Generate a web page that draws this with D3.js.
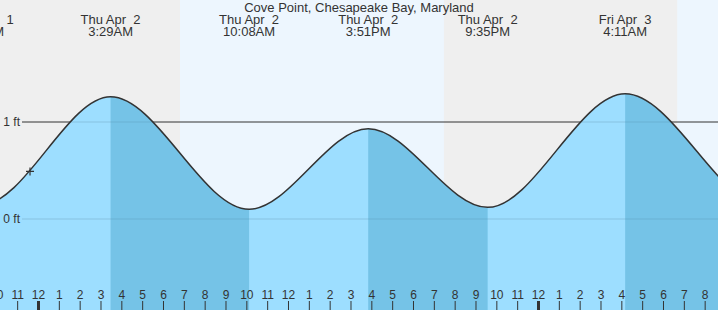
<!DOCTYPE html>
<html>
<head>
<meta charset="utf-8">
<script src="https://cdn.jsdelivr.net/npm/d3@7"></script>
<style>
  body { margin: 0; background: #fff; }
  svg { display: block; font-family: "Liberation Sans", Arial, sans-serif; }
  text { white-space: pre; fill: #333; }
</style>
</head>
<body>
<div id="chart"></div>
<script>
// tide extremes (high / low)
const extremeTimes = ['2026-04-01T15:05', '2026-04-01T21:18', '2026-04-02T03:29', '2026-04-02T10:08',
    '2026-04-02T15:51', '2026-04-02T21:35', '2026-04-03T04:11', '2026-04-03T11:05', '2026-04-03T16:45']
const extremeFeet = [0.95, 0.15, 1.26, 0.10, 0.93, 0.12, 1.29, 0.10, 0.90]
const extremeType = ['H', 'L', 'H', 'L', 'H', 'L', 'H', 'L', 'H']

// daylight
const sunrise = ['2026-04-02T06:49', '2026-04-03T06:41']
const sunset = ['2026-04-02T19:29', '2026-04-03T19:30']

const viewStart = '2026-04-01T22:10:34'
const viewEnd = '2026-04-03T08:38:24'
const gridFeet = [0, 1]
const gridLabels = ['0 ft', '1 ft']
const nowTime = '2026-04-01T23:37'
const nowFeet = 0.49
const title = 'Cove Point, Chesapeake Bay, Maryland'

const createChart = () => {
//variables
    const width = 718
    const height = 310
    const parse = d3.timeParse('%Y-%m-%dT%H:%M')
    const parseS = d3.timeParse('%Y-%m-%dT%H:%M:%S')
    const fmtDay = d3.timeFormat('%a %b %e')
    const fmtTime = d3.timeFormat('%-I:%M%p')

    const x = d3.scaleTime()
        .domain([parseS(viewStart), parseS(viewEnd)])
        .range([0, width])
    const y = d3.scaleLinear()
        .domain([0, 1])
        .range([219, 122])

    const tide = extremeTimes.map((t, i) => ({ t: parse(t), v: extremeFeet[i], type: extremeType[i] }))

    const svg = d3.select('#chart')
        .append('svg')
        .attr('width', width)
        .attr('height', height)

//night / day background
    svg.append('rect')
        .attr('width', width)
        .attr('height', height)
        .attr('fill', '#efefef')
    svg.selectAll('.day')
        .data(sunrise.map((s, i) => [parse(s), parse(sunset[i])]))
        .enter()
        .append('rect')
        .attr('class', 'day')
        .attr('x', (d) => x(d[0]))
        .attr('width', (d) => x(d[1]) - x(d[0]))
        .attr('height', height)
        .attr('fill', '#edf6fe')

//grid lines under water
    svg.append('g')
        .selectAll('line')
        .data(gridFeet)
        .enter()
        .append('line')
        .attr('x1', 22)
        .attr('x2', width)
        .attr('y1', (d) => y(d))
        .attr('y2', (d) => y(d))
        .attr('stroke', '#333')

//water
    const area = d3.area()
        .x((d) => x(d.t))
        .y0(height)
        .y1((d) => y(d.v))
        .curve(d3.curveMonotoneX)
    svg.append('clipPath')
        .attr('id', 'water')
        .append('path')
        .attr('d', area(tide))
    svg.append('path')
        .attr('d', area(tide))
        .attr('fill', '#99ddff')
        .attr('fill-opacity', 0.96)

    // falling tide bands (high to next low)
    const bands = []
    tide.forEach((d, i) => {
        if (d.type === 'H') {
            const next = tide[i + 1] ? tide[i + 1].t : x.domain()[1]
            bands.push([d.t, next])
        }
    })
    svg.append('g')
        .attr('clip-path', 'url(#water)')
        .selectAll('rect')
        .data(bands)
        .enter()
        .append('rect')
        .attr('x', (d) => x(d[0]))
        .attr('width', (d) => x(d[1]) - x(d[0]))
        .attr('height', height)
        .attr('fill', '#74c2e6')
        .attr('fill-opacity', 0.96)

    // faint grid over water
    svg.append('g')
        .attr('clip-path', 'url(#water)')
        .selectAll('line')
        .data(gridFeet)
        .enter()
        .append('line')
        .attr('x1', 22)
        .attr('x2', width)
        .attr('y1', (d) => y(d))
        .attr('y2', (d) => y(d))
        .attr('stroke', '#000')
        .attr('stroke-opacity', 0.09)

    svg.append('g')
        .selectAll('text')
        .data(gridFeet)
        .enter()
        .append('text')
        .attr('x', 20)
        .attr('y', (d) => y(d))
        .attr('dy', '0.35em')
        .attr('text-anchor', 'end')
        .attr('font-size', 12)
        .text((d, i) => gridLabels[i])

//tide line
    const line = d3.line()
        .x((d) => x(d.t))
        .y((d) => y(d.v))
        .curve(d3.curveMonotoneX)
    svg.append('path')
        .attr('d', line(tide))
        .attr('fill', 'none')
        .attr('stroke', '#333')
        .attr('stroke-width', 1.5)

//current time marker
    svg.append('path')
        .attr('transform', `translate(${x(parse(nowTime))},${y(nowFeet)})`)
        .attr('d', 'M-4,0H4M0,-4V4')
        .attr('stroke', '#333')
        .attr('stroke-width', 1.2)

//title and extreme labels
    svg.append('text')
        .attr('x', width / 2)
        .attr('y', 12)
        .attr('text-anchor', 'middle')
        .attr('font-size', 13)
        .text(title)
    const labels = svg.append('g')
        .selectAll('text')
        .data(tide.filter((d) => x(d.t) > -60 && x(d.t) < width + 60))
        .enter()
        .append('text')
        .attr('text-anchor', 'middle')
        .attr('font-size', 13)
    labels.append('tspan')
        .attr('x', (d) => x(d.t))
        .attr('y', 24)
        .text((d) => fmtDay(d.t))
    labels.append('tspan')
        .attr('x', (d) => x(d.t))
        .attr('y', 36)
        .text((d) => fmtTime(d.t))

//hour axis
    const [t0, t1] = x.domain()
    const axis = d3.axisTop(x)
        .tickValues(d3.timeHour.range(d3.timeHour.floor(t0), t1))
        .tickSize(9)
        .tickPadding(2)
        .tickFormat((d) => (d.getHours() % 12) || 12)
    const g = svg.append('g')
        .attr('transform', `translate(0,${height})`)
        .call(axis)
    g.select('.domain').remove()
    g.selectAll('.tick line')
        .attr('stroke', '#333')
        .attr('stroke-width', (d) => d.getHours() === 0 ? 3 : 1)
    g.selectAll('.tick text')
        .attr('font-size', 12)
        .attr('font-family', '"Liberation Sans", Arial, sans-serif')
        .attr('fill', '#333')
}

createChart()
</script>
</body>
</html>
